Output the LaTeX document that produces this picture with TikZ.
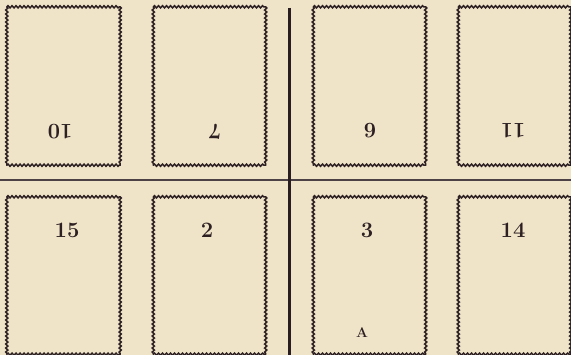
\documentclass[tikz,border=0pt]{standalone}
\usepackage{fontspec}
\usetikzlibrary{decorations.pathmorphing}
\definecolor{paper}{RGB}{240,228,200}
\definecolor{ink}{RGB}{45,32,35}
\tikzset{
  stamp/.style={inner sep=0pt},
  wavy/.style={draw=ink, line width=1.5pt, line cap=round, decorate,
    decoration={snake, segment length=4pt, amplitude=1.1pt}},
  num/.style={text=ink, font=\bfseries\fontsize{22}{24}\selectfont, inner sep=0pt},
  upside/.style={num, rotate=180},
  rule/.style={draw=ink!85, line width=1.3pt},
  spine/.style={draw=ink!90!black, line width=3.8pt}
}
\newcommand\stampframe[1]{%
  \draw[wavy] (#1.north west) -- (#1.north east);
  \draw[wavy] (#1.north east) -- (#1.south east);
  \draw[wavy] (#1.south west) -- (#1.south east);
  \draw[wavy] (#1.north west) -- (#1.south west);
}
\begin{document}
\begin{tikzpicture}[x=1pt,y=-1pt]
\fill[paper] (0,0) rectangle (571,355);
\useasboundingbox (0,0) rectangle (571,355);
\begin{scope}
\clip (0,0) rectangle (571,355);
% top row
\node[stamp, minimum width=113pt, minimum height=158pt] (s1) at (63.5,86) {};
\node[stamp, minimum width=112pt, minimum height=158pt] (s2) at (209.5,86) {};
\node[stamp, minimum width=112pt, minimum height=158pt] (s3) at (369.5,86) {};
\node[stamp, minimum width=112pt, minimum height=158pt] (s4) at (514.5,86) {};
% bottom row
\node[stamp, minimum width=113pt, minimum height=157pt] (s5) at (63.5,275.5) {};
\node[stamp, minimum width=112pt, minimum height=157pt] (s6) at (209.5,275.5) {};
\node[stamp, minimum width=112pt, minimum height=157pt] (s7) at (369.5,275.5) {};
\node[stamp, minimum width=112pt, minimum height=157pt] (s8) at (514.5,275.5) {};
\stampframe{s1}\stampframe{s2}\stampframe{s3}\stampframe{s4}
\stampframe{s5}\stampframe{s6}\stampframe{s7}\stampframe{s8}
% labels
\node[upside] (l1) at (60,132) {10};
\node[upside] (l2) at (215,132) {7};
\node[upside] (l3) at (370,131) {6};
\node[upside] (l4) at (513,131) {11};
\node[num] (l5) at (67,230) {15};
\node[num] (l6) at (207,230) {2};
\node[num] (l7) at (367,230) {3};
\node[num] (l8) at (513,230) {14};
\node[text=ink, font=\bfseries\fontsize{14}{15}\selectfont, inner sep=0pt] (la) at (362,333) {A};
% rules
\coordinate (hl) at (0,180);
\coordinate (hr) at (571,180);
\coordinate (vt) at (289.5,8);
\coordinate (vb) at (289.5,355);
\draw[rule] (hl) -- (hr);
\draw[spine] (vt) -- (vb);
\end{scope}
\end{tikzpicture}
\end{document}
